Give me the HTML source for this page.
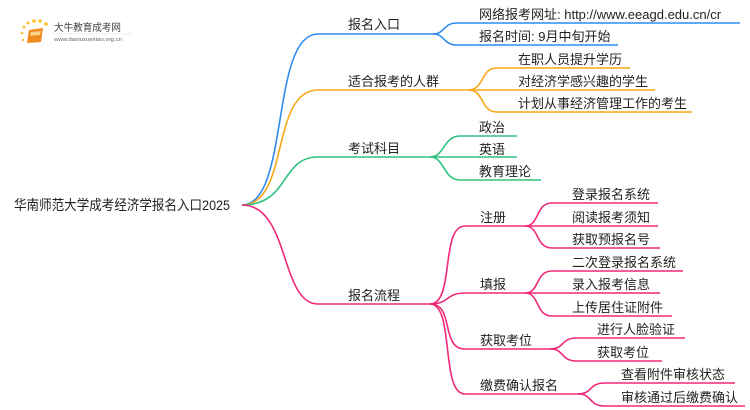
<!DOCTYPE html>
<html><head><meta charset="utf-8"><style>
html,body{margin:0;padding:0;background:#fff;width:750px;height:410px;overflow:hidden}
svg text{font-family:"Liberation Sans","Noto Sans CJK SC",sans-serif;font-size:13px;fill:#222}
</style></head><body>
<svg width="750" height="410" viewBox="0 0 750 410" xmlns="http://www.w3.org/2000/svg">
<!-- logo -->
<g>
<circle cx="24" cy="27" r="1.5" fill="#fbc02d"/><circle cx="28" cy="23" r="1.5" fill="#fbc02d"/><circle cx="34" cy="21" r="1.8" fill="#fbc02d"/><circle cx="40" cy="21" r="1.8" fill="#fbc02d"/><circle cx="46" cy="24" r="1.8" fill="#fbc02d"/><circle cx="22" cy="33" r="1.3" fill="#fbc02d"/><circle cx="23" cy="40" r="1.2" fill="#fbc02d"/>
<path d="M29 30 L43 28 L41 42 L27 43 Z" fill="#f08a1c"/>
<path d="M31 32 L41 31 L40 35 L30 36 Z" fill="#fbd28a"/>
<text x="54" y="31" textLength="67" lengthAdjust="spacingAndGlyphs" style="font-size:10px;fill:#444">大牛教育成考网</text>
<line x1="53" y1="34" x2="132" y2="34" stroke="#ddd" stroke-width="0.6"/>
<text x="54" y="41" textLength="68" lengthAdjust="spacingAndGlyphs" style="font-size:5.5px;fill:#666">www.daniuxuexiao.org.cn</text>
</g>
<g fill="none" stroke-width="1.6">
<path d="M242 205 C 290 205, 270 34, 318 34 L433 34" stroke="#2e8cf0"/>
<path d="M242 205 C 290 205, 270 90, 318 90 L468 90" stroke="#f5a818"/>
<path d="M242 205 C 290 205, 280 157, 318 157 L430 157" stroke="#2ec27e"/>
<path d="M242 205 C 290 205, 280 304, 318 304 L430 304" stroke="#f0287a"/>
<path d="M433 34 C 445 34, 443 23, 457 23 L740 23" stroke="#2e8cf0"/>
<path d="M433 34 C 445 34, 443 45, 457 45 L618 45" stroke="#2e8cf0"/>
<path d="M468 90 C 485 90, 480 68, 497 68 L630 68" stroke="#f5a818"/>
<path d="M468 90 L655 90" stroke="#f5a818"/>
<path d="M468 90 C 485 90, 480 112, 497 112 L692 112" stroke="#f5a818"/>
<path d="M430 157 C 445 157, 443 136, 460 136 L517 136" stroke="#2ec27e"/>
<path d="M430 157 L517 157" stroke="#2ec27e"/>
<path d="M430 157 C 445 157, 443 180, 460 180 L541 180" stroke="#2ec27e"/>
<path d="M430 304 C 455 304, 440 226, 465 226 L525 226" stroke="#f0287a"/>
<path d="M430 304 C 450 304, 445 293, 465 293 L525 293" stroke="#f0287a"/>
<path d="M430 304 C 455 304, 440 349, 465 349 L550 349" stroke="#f0287a"/>
<path d="M430 304 C 455 304, 440 394, 465 394 L578 394" stroke="#f0287a"/>
<path d="M525 226 C 540 226, 535 203, 552 203 L658 203" stroke="#f0287a"/>
<path d="M525 226 L658 226" stroke="#f0287a"/>
<path d="M525 226 C 540 226, 535 248, 552 248 L660 248" stroke="#f0287a"/>
<path d="M525 293 C 540 293, 535 271, 552 271 L683 271" stroke="#f0287a"/>
<path d="M525 293 L660 293" stroke="#f0287a"/>
<path d="M525 293 C 540 293, 535 316, 552 316 L672 316" stroke="#f0287a"/>
<path d="M550 349 C 565 349, 560 338, 577 338 L685 338" stroke="#f0287a"/>
<path d="M550 349 C 565 349, 560 361, 577 361 L662 361" stroke="#f0287a"/>
<path d="M578 394 C 593 394, 588 383, 605 383 L735 383" stroke="#f0287a"/>
<path d="M578 394 C 593 394, 588 406, 605 406 L745 406" stroke="#f0287a"/>
</g>
<text x="14" y="210" textLength="216" lengthAdjust="spacingAndGlyphs" style="font-size:14px">华南师范大学成考经济学报名入口2025</text>
<text x="348" y="29">报名入口</text>
<text x="348" y="86">适合报考的人群</text>
<text x="348" y="153">考试科目</text>
<text x="348" y="300">报名流程</text>
<text x="479" y="19">网络报考网址: http://www.eeagd.edu.cn/cr</text>
<text x="479" y="41">报名时间: 9月中旬开始</text>
<text x="518" y="64">在职人员提升学历</text>
<text x="518" y="86">对经济学感兴趣的学生</text>
<text x="518" y="108">计划从事经济管理工作的考生</text>
<text x="479" y="132">政治</text>
<text x="479" y="154">英语</text>
<text x="479" y="176">教育理论</text>
<text x="480" y="222">注册</text>
<text x="480" y="289">填报</text>
<text x="480" y="345">获取考位</text>
<text x="480" y="390">缴费确认报名</text>
<text x="572" y="199">登录报名系统</text>
<text x="572" y="222">阅读报考须知</text>
<text x="572" y="244">获取预报名号</text>
<text x="572" y="267">二次登录报名系统</text>
<text x="572" y="289">录入报考信息</text>
<text x="572" y="312">上传居住证附件</text>
<text x="597" y="334">进行人脸验证</text>
<text x="597" y="357">获取考位</text>
<text x="621" y="379">查看附件审核状态</text>
<text x="621" y="402">审核通过后缴费确认</text>
</svg>
</body></html>
